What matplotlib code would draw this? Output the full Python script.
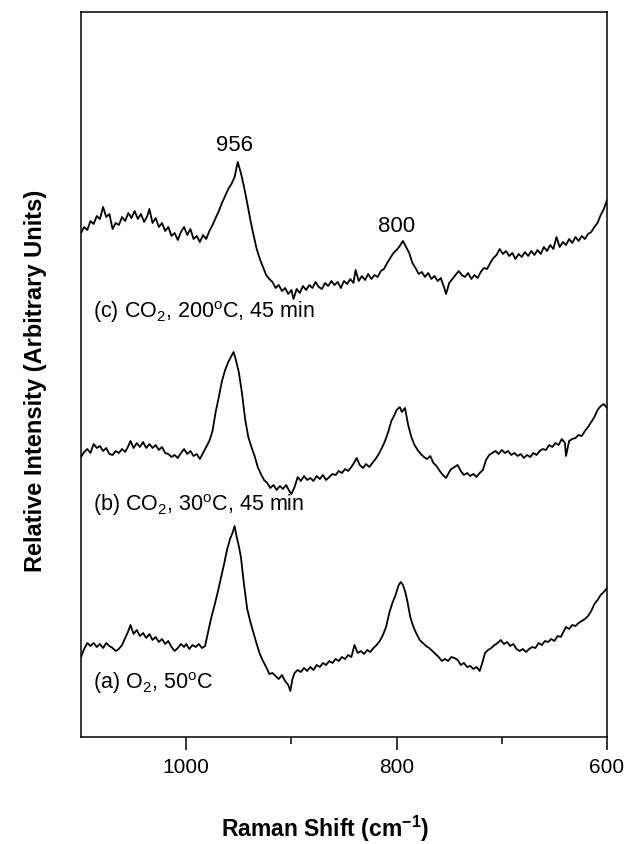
import matplotlib.pyplot as plt
from matplotlib.ticker import FixedLocator

plt.rcParams['font.family'] = ['Liberation Sans', 'DejaVu Sans']
plt.rcParams['mathtext.fontset'] = 'custom'
plt.rcParams['mathtext.rm'] = 'Liberation Sans'
plt.rcParams['mathtext.it'] = 'Liberation Sans'
plt.rcParams['mathtext.bf'] = 'Liberation Sans:bold'

# spectrum (c) CO2, 200C, 45 min  -- wavenumber, intensity (offset, arbitrary)
wn_c = [1100, 1097, 1094, 1091, 1088, 1085, 1082, 1079, 1076, 1073, 1070, 1067, 1064, 1061, 1058,
        1055, 1052, 1049, 1046, 1043, 1040, 1037, 1035, 1032, 1029, 1026, 1023, 1020, 1017, 1014,
        1011, 1008, 1005, 1002, 999, 996, 993, 990, 987, 984, 981, 978, 975, 972, 969, 966, 963,
        960, 957, 954, 951, 948, 945, 942, 939, 936, 933, 930, 927, 924, 921, 918, 915, 912, 909,
        906, 903, 900, 898, 895, 892, 889, 886, 883, 880, 877, 874, 871, 868, 865, 862, 859, 856,
        853, 850, 847, 844, 841, 839, 836, 833, 830, 827, 824, 821, 818, 815, 812, 809, 806, 803,
        800, 797, 794, 791, 788, 785, 782, 779, 776, 773, 770, 767, 764, 761, 758, 755, 753, 750,
        747, 744, 741, 738, 735, 732, 729, 726, 723, 720, 717, 714, 711, 708, 705, 702, 699, 696,
        693, 690, 687, 684, 681, 678, 675, 672, 669, 666, 663, 660, 657, 654, 651, 648, 645, 642,
        639, 636, 633, 630, 627, 624, 621, 618, 615, 612, 609, 606, 603, 600]
int_c = [504, 510, 507, 516, 513, 521, 518, 530, 520, 523, 508, 514, 512, 520, 516,
         524, 519, 526, 518, 523, 515, 521, 528, 514, 519, 510, 514, 506, 510, 501,
         504, 497, 505, 510, 502, 508, 498, 501, 495, 502, 498, 506, 512, 519, 526, 534, 541,
         548, 553, 560, 575, 564, 550, 534, 517, 502, 488, 478, 470, 462, 458, 455, 449, 452, 446,
         449, 443, 447, 438, 448, 444, 451, 447, 452, 449, 455, 450, 448, 454, 451, 456, 452, 455,
         449, 456, 453, 458, 454, 467, 456, 461, 457, 463, 458, 462, 460, 466, 468, 474, 479, 484,
         487, 491, 496, 490, 484, 474, 469, 463, 465, 460, 464, 458, 461, 456, 459, 450, 443, 454,
         458, 462, 466, 462, 460, 464, 458, 462, 459, 465, 469, 468, 474, 479, 482, 488, 483, 486,
         481, 484, 478, 483, 480, 485, 481, 486, 482, 487, 483, 490, 486, 492, 488, 500, 490, 495,
         492, 498, 494, 500, 496, 501, 498, 503, 505, 510, 514, 522, 528, 537]

# spectrum (b) CO2, 30C, 45 min
wn_b = [1100, 1097, 1094, 1091, 1088, 1085, 1082, 1079, 1076, 1073, 1070, 1067, 1064, 1061, 1058,
        1055, 1053, 1050, 1047, 1044, 1041, 1038, 1035, 1032, 1029, 1026, 1023, 1020, 1017, 1014,
        1011, 1008, 1005, 1002, 999, 996, 993, 990, 987, 984, 981, 978, 975, 972, 969, 966, 963,
        960, 957, 955, 953, 950, 947, 944, 941, 938, 935, 932, 929, 926, 923, 920, 917, 914, 911,
        908, 905, 902, 900, 897, 894, 891, 888, 885, 882, 879, 876, 873, 870, 867, 864, 861, 858,
        855, 852, 849, 846, 843, 840, 838, 835, 832, 829, 826, 823, 820, 817, 814, 811, 808, 805,
        802, 800, 797, 795, 792, 789, 786, 783, 780, 777, 774, 771, 768, 765, 762, 759, 756, 753,
        750, 748, 745, 742, 739, 736, 733, 730, 727, 724, 721, 718, 715, 712, 709, 706, 703, 700,
        697, 694, 691, 688, 685, 682, 679, 676, 673, 670, 667, 664, 661, 658, 655, 652, 649, 646,
        643, 640, 639, 636, 633, 630, 627, 624, 621, 618, 615, 612, 609, 606, 603, 600]
int_b = [280, 285, 288, 284, 293, 289, 291, 286, 289, 283, 282, 286, 284, 288, 285,
         291, 296, 289, 294, 290, 295, 289, 293, 289, 292, 287, 290, 284, 283, 280,
         282, 279, 284, 288, 283, 286, 281, 283, 278, 284, 290, 296, 306, 325, 340, 356, 367,
         375, 381, 385, 378, 365, 344, 318, 300, 290, 281, 270, 263, 257, 254, 249, 252, 247, 251,
         248, 252, 246, 243, 250, 260, 256, 261, 257, 259, 256, 261, 258, 262, 257, 260, 263, 262,
         266, 264, 268, 266, 270, 275, 279, 272, 269, 273, 270, 274, 278, 283, 289, 296, 305, 316,
         322, 327, 330, 325, 329, 312, 300, 292, 287, 283, 280, 278, 281, 274, 271, 266, 262, 259,
         265, 268, 270, 272, 266, 262, 264, 261, 263, 260, 264, 267, 277, 282, 284, 286, 283, 287,
         284, 286, 282, 284, 281, 283, 279, 282, 280, 284, 282, 286, 288, 287, 292, 290, 294, 292,
         298, 294, 281, 296, 298, 299, 302, 301, 306, 310, 315, 320, 327, 331, 333, 329]

# spectrum (a) O2, 50C
wn_a = [1100, 1097, 1094, 1091, 1088, 1085, 1082, 1079, 1076, 1073, 1070, 1067, 1064, 1061, 1058,
        1055, 1053, 1050, 1047, 1044, 1041, 1038, 1035, 1032, 1029, 1026, 1023, 1020, 1017, 1014,
        1011, 1008, 1005, 1002, 1000, 997, 994, 991, 988, 985, 982, 979, 976, 973, 970, 967, 964,
        961, 958, 956, 954, 952, 950, 948, 945, 942, 939, 936, 933, 930, 927, 924, 921, 918, 915,
        912, 909, 906, 903, 901, 899, 897, 894, 891, 888, 885, 882, 879, 876, 873, 870, 867, 864,
        861, 858, 855, 852, 849, 846, 843, 840, 837, 834, 831, 828, 825, 822, 819, 816, 813, 810,
        807, 804, 801, 798, 796, 794, 792, 790, 787, 784, 781, 778, 775, 772, 769, 766, 763, 760,
        757, 754, 751, 748, 745, 742, 739, 736, 733, 730, 727, 724, 721, 718, 716, 713, 710, 707,
        704, 701, 698, 695, 692, 689, 686, 683, 680, 677, 674, 671, 668, 665, 662, 659, 656, 653,
        650, 647, 644, 641, 639, 636, 633, 630, 627, 624, 621, 618, 615, 612, 609, 606, 603, 600]
int_a = [80, 88, 94, 91, 94, 90, 93, 89, 94, 91, 89, 86, 88, 92, 99,
         106, 112, 103, 107, 101, 104, 99, 103, 97, 100, 95, 98, 93, 96, 90,
         86, 89, 93, 90, 93, 88, 92, 90, 93, 89, 91, 106, 120, 132, 145, 159, 173,
         188, 199, 204, 211, 200, 191, 180, 152, 128, 115, 104, 93, 83, 76, 70, 63, 64, 61,
         58, 62, 56, 52, 46, 58, 64, 67, 65, 69, 66, 70, 67, 72, 70, 74, 72, 76,
         74, 78, 76, 80, 78, 82, 80, 92, 84, 86, 83, 87, 85, 89, 92, 96, 102, 110,
         124, 134, 142, 152, 155, 152, 146, 137, 120, 110, 103, 97, 94, 91, 89, 86, 83, 80,
         76, 78, 76, 80, 79, 77, 72, 74, 70, 71, 68, 70, 66, 76, 84, 87, 89, 92,
         94, 97, 93, 95, 91, 93, 88, 86, 88, 85, 88, 90, 89, 94, 92, 96, 95, 98,
         96, 101, 100, 106, 110, 108, 112, 111, 114, 116, 118, 121, 126, 133, 137, 142, 145, 149]

labels = [r'(c) CO$_2$, 200$^\mathrm{o}$C, 45 min',
          r'(b) CO$_2$, 30$^\mathrm{o}$C, 45 min',
          r'(a) O$_2$, 50$^\mathrm{o}$C']
label_y = [425, 232, 54]
peak_pos = [950, 796]
peak_txt = ['956', '800']
peak_y = [592, 511]

fig = plt.figure(figsize=(6.26, 8.44), dpi=100)
ax = fig.add_axes([81/626, 1 - 737/844, 526/626, 725/844])

for wn, inten in [(wn_c, int_c), (wn_b, int_b), (wn_a, int_a)]:
    ax.plot(wn, inten, color='black', lw=1.3)

for txt, y in zip(labels, label_y):
    ax.text(1089, y, txt, fontsize=15.5, va='center', ha='left')
for p, t, y in zip(peak_pos, peak_txt, peak_y):
    ax.text(p + 4, y, t, fontsize=16, ha='center', va='center')

ax.set_xlim(1100, 600)
ax.set_ylim(0, 725)
ax.xaxis.set_major_locator(FixedLocator([1000, 800, 600]))
ax.xaxis.set_minor_locator(FixedLocator([900, 700]))
ax.tick_params(axis='x', which='major', direction='out', length=9, width=1.1,
               labelsize=15, pad=6)
ax.tick_params(axis='x', which='minor', direction='out', length=5, width=1.1)
ax.set_yticks([])
for s in ax.spines.values():
    s.set_linewidth(1.1)

fig.text(36/626, 1 - 381/844, 'Relative Intensity (Arbitrary Units)', rotation=90,
         fontsize=17, fontweight='bold', ha='center', va='center')
fig.text(325/626, 1 - 829/844, r'Raman Shift (cm$^{\mathbf{-1}}$)',
         fontsize=16.5, fontweight='bold', ha='center', va='center')

fig.savefig('out.png', dpi=100)
